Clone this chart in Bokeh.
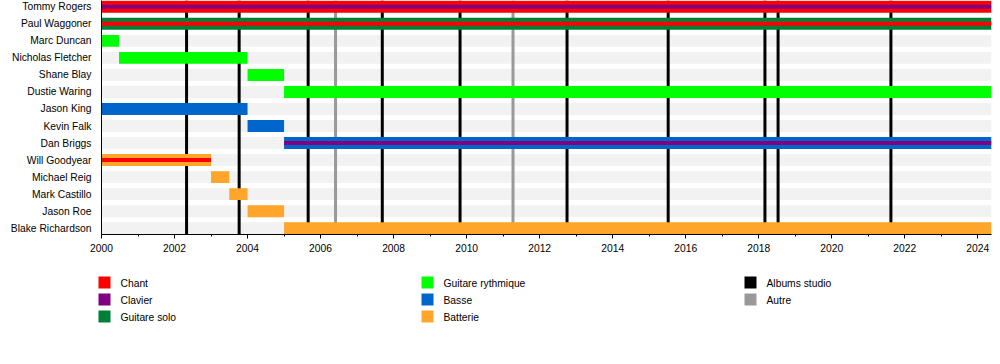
from bokeh.plotting import figure
from bokeh.models import Range1d, FixedTicker, SingleIntervalTicker
from bokeh.layouts import column, row
from bokeh.core.properties import value
from bokeh.embed import file_html
from bokeh.resources import INLINE

END = 2024.375
members = ["Tommy Rogers", "Paul Waggoner", "Marc Duncan", "Nicholas Fletcher",
           "Shane Blay", "Dustie Waring", "Jason King", "Kevin Falk", "Dan Briggs",
           "Will Goodyear", "Michael Reig", "Mark Castillo", "Jason Roe",
           "Blake Richardson"]
start = [2000, 2000, 2000, 2000.48, 2004, 2005, 2000, 2004, 2005,
         2000, 2003, 2003.5, 2004, 2005]
end_ = [END, END, 2000.48, 2004, 2005, END, 2004, 2005, END,
        2003, 2003.5, 2004, 2005, END]
main_role = ["Chant", "Guitare solo", "Guitare rythmique", "Guitare rythmique",
             "Guitare rythmique", "Guitare rythmique", "Basse", "Basse", "Basse",
             "Batterie", "Batterie", "Batterie", "Batterie", "Batterie"]
inner_role = ["Clavier", "Chant", None, None, None, None, None, None, "Clavier",
              "Chant", None, None, None, None]

studio_albums = [2002.33, 2003.77, 2005.66, 2007.69, 2009.82, 2012.75,
                 2015.52, 2018.17, 2018.53, 2021.62]
other_releases = [2006.41, 2011.27]

legend_labels = ["Chant", "Clavier", "Guitare solo", "Guitare rythmique", "Basse",
                 "Batterie", "Albums studio", "Autre"]
legend_colors = ["#ff0000", "#800080", "#007f3a", "#00ff00", "#0066cc",
                 "#ffa52c", "#000000", "#999999"]
color_of = dict(zip(legend_labels, legend_colors))

FONT_NAME = "Liberation Sans"
n = len(members)
ys = [n - 1 - i for i in range(n)]
ylo, yhi = -0.37, n - 1 + 0.37

p = figure(width=992, height=262, x_range=Range1d(2000, END),
           y_range=Range1d(ylo, yhi), output_backend="svg",
           toolbar_location=None, min_border_left=101, min_border_right=1,
           min_border_top=0, min_border_bottom=28)
p.grid.visible = False
p.outline_line_color = None
p.background_fill_color = "white"

# background stripes
p.hbar(y=ys, left=2000, right=END, height=0.7, color="#f2f2f2", line_color=None)
# release lines
p.segment(x0=studio_albums, x1=studio_albums, y0=ylo, y1=yhi,
          line_width=3, line_color=color_of["Albums studio"])
p.segment(x0=other_releases, x1=other_releases, y0=ylo, y1=yhi,
          line_width=3, line_color=color_of["Autre"])
# member bars
p.hbar(y=ys, left=start, right=end_, height=0.7,
       fill_color=[color_of[r] for r in main_role], line_color=None)
iy = [ys[i] for i in range(n) if inner_role[i]]
il = [start[i] for i in range(n) if inner_role[i]]
ir = [end_[i] for i in range(n) if inner_role[i]]
ic = [color_of[inner_role[i]] for i in range(n) if inner_role[i]]
p.hbar(y=iy, left=il, right=ir, height=0.23, fill_color=ic, line_color=None)

# y axis
p.yaxis.ticker = FixedTicker(ticks=ys)
p.yaxis.major_label_overrides = {ys[i]: members[i] for i in range(n)}
p.yaxis.major_tick_line_color = None
p.yaxis.minor_tick_line_color = None
p.yaxis.major_tick_out = 0
p.yaxis.major_tick_in = 0
p.yaxis.minor_tick_out = 0
p.yaxis.minor_tick_in = 0
p.yaxis.axis_line_color = "black"
p.yaxis.major_label_standoff = 10
p.yaxis.major_label_text_font = FONT_NAME
p.yaxis.major_label_text_font_size = "10.3px"
p.yaxis.major_label_text_color = "black"

# x axis
p.xaxis.ticker = SingleIntervalTicker(interval=2, num_minor_ticks=2)
p.xaxis.major_tick_out = 4
p.xaxis.major_tick_in = 0
p.xaxis.minor_tick_out = 2
p.xaxis.minor_tick_in = 0
p.xaxis.major_label_standoff = 5
p.xaxis.axis_line_color = "black"
p.xaxis.major_tick_line_color = "black"
p.xaxis.minor_tick_line_color = "black"
p.xaxis.major_label_text_font = FONT_NAME
p.xaxis.major_label_text_font_size = "10.3px"
p.xaxis.major_label_text_color = "black"

# legend figure (coordinates are screen pixels)
lg = figure(width=992, height=70, x_range=Range1d(0, 992), y_range=Range1d(70, 0),
            output_backend="svg", toolbar_location=None, x_axis_type=None,
            y_axis_type=None, min_border_left=0, min_border_right=0,
            min_border_top=0, min_border_bottom=0)
lg.grid.visible = False
lg.outline_line_color = None
lx = [98 + (i // 3) * 323 for i in range(len(legend_labels))]
ly = [20 + (i % 3) * 17 for i in range(len(legend_labels))]
lg.rect(x=[x + 6 for x in lx], y=ly, width=12, height=12,
        fill_color=legend_colors, line_color=None)
lg.text(x=[x + 22 for x in lx], y=[y + 1 for y in ly], text=legend_labels,
        text_font=value(FONT_NAME), text_font_size="10.3px", text_baseline="middle",
        text_color="black")

layout = column(p, row(lg))
open("out.html", "w").write(file_html(layout, INLINE))
